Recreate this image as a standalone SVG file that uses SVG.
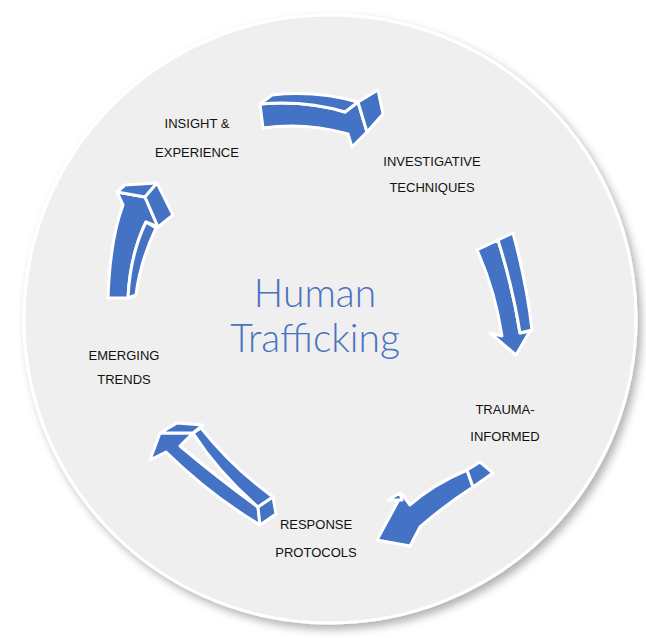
<svg xmlns="http://www.w3.org/2000/svg" width="646" height="638" viewBox="0 0 646 638">
<defs>
<filter id="sh" x="-10%" y="-10%" width="120%" height="120%"><feDropShadow dx="4" dy="5" stdDeviation="4" flood-color="#000" flood-opacity="0.3"/></filter>
<style>
.a{fill:#4472c4;stroke:#fff;stroke-width:3;stroke-linejoin:round}
.t{font-family:"Liberation Sans",Arial,sans-serif;font-size:13px;fill:#111;text-anchor:middle}
.h{font-family:Lato,"Open Sans",sans-serif;font-weight:300;font-size:39px;fill:#4a72c0;text-anchor:middle}
</style>
</defs>
<rect width="646" height="638" fill="#fff"/>
<ellipse cx="330" cy="319" rx="306" ry="304" fill="#efefef" stroke="#fff" stroke-width="3" filter="url(#sh)"/>
<g id="connectors">
<g id="arrow1">
<path class="a" d="M260,104 Q305,100 345,112 L358,102 L367,132 L352,147 L348,134 Q305,122 263,128 Z"/>
<path class="a" d="M260,104 L272,95 Q315,90 358,102 L345,112 Q305,100 260,104 Z"/>
<path class="a" d="M358,102 L378,90 L383,114 L367,132 Z"/>
</g>
<g id="arrow2">
<path class="a" d="M477,250 L498,240 Q513,288 520,333 L530,331 L516,355 L490,333 L502,336 Q495,290 477,250 Z"/>
<path class="a" d="M498,240 L513,233 Q527,285 532,330 L520,333 Q513,288 498,240 Z"/>
</g>
<g id="arrow3">
<path class="a" d="M467,470 Q432,485 410,505 L402,494 L377,540 L410,546 L420,527 Q445,505 473,487 Z"/>
<path class="a" d="M467,470 L480,462 L493,473 L473,487 Z"/>
<path class="a" d="M388,500 L400,493 L402,500 Z"/>
</g>
<g id="arrow4">
<path class="a" d="M258,507 Q218,478 180,446 L193,433 L160,433 L150,460 L166,452 Q210,495 260,525 Z"/>
<path class="a" d="M258,507 L273,497 Q232,467 201,428 L193,433 Q218,472 258,507 Z"/>
<path class="a" d="M160,433 L177,423 L203,425 L193,433 Z"/>
<path class="a" d="M258,507 L273,497 L276,514 L260,525 Z"/>
</g>
<g id="arrow5">
<path class="a" d="M117,192 L145,197 L158,227 L146,222 Q130,255 128,298 L108,298 Q110,240 123,205 Z"/>
<path class="a" d="M146,222 L156,228 Q140,262 136,295 L128,298 Q130,255 146,222 Z"/>
<path class="a" d="M117,192 L125,185 L157,183 L145,197 Z"/>
<path class="a" d="M145,197 L157,183 L173,215 L158,227 Z"/>
</g>
</g>
<g id="node-insight"><text class="t" x="197" y="128">INSIGHT &amp;</text><text class="t" x="197" y="157">EXPERIENCE</text></g>
<g id="node-investigative"><text class="t" x="432" y="166">INVESTIGATIVE</text><text class="t" x="432" y="192">TECHNIQUES</text></g>
<g id="node-trauma"><text class="t" x="505" y="414">TRAUMA-</text><text class="t" x="505" y="441">INFORMED</text></g>
<g id="node-response"><text class="t" x="316" y="529">RESPONSE</text><text class="t" x="316" y="557">PROTOCOLS</text></g>
<g id="node-emerging"><text class="t" x="124" y="360">EMERGING</text><text class="t" x="124" y="384">TRENDS</text></g>
<g id="node-center"><text class="h" x="315" y="307">Human</text><text class="h" x="315" y="352">Trafficking</text></g>
</svg>
